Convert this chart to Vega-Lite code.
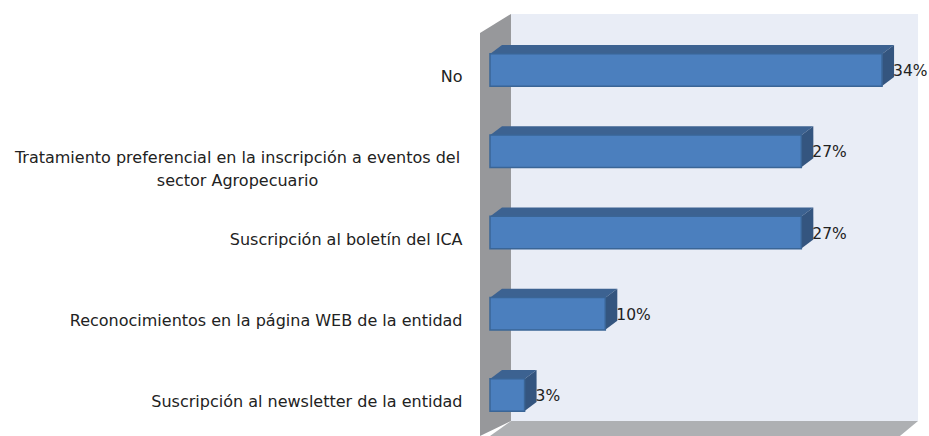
{
"$schema":"https://vega.github.io/schema/vega-lite/v6.json",
"width":449,"height":436,
"autosize":"none",
"padding":{"left":480,"top":0,"right":0,"bottom":0},
"background":"white",
"view":{"stroke":null},
"config":{"font":"DejaVu Sans"},
"datasets":{
"answers":[
{"label":"No","value":0.34,"rank":0},
{"label":"Tratamiento preferencial en la inscripción a eventos  del|sector Agropecuario","value":0.27,"rank":1},
{"label":"Suscripción al boletín del ICA","value":0.27,"rank":2},
{"label":"Reconocimientos en la página WEB de la entidad","value":0.10,"rank":3},
{"label":"Suscripción al newsletter de la entidad","value":0.03,"rank":4}
],
"backWall":[{"a":0.0182,"b":0.3712,"top":-0.689,"bottom":4.3200}],
"sideWall":[
{"a":-0.00867,"top":-0.4554,"bottom":4.5046},
{"a":0.0182,"top":-0.689,"bottom":4.32}
],
"floor":[
{"a":0,"top":4.5046,"bottom":4.5046},
{"a":0.0182,"top":4.32,"bottom":4.5046},
{"a":0.3555,"top":4.32,"bottom":4.5046},
{"a":0.3712,"top":4.32,"bottom":4.32}
]
},
"layer":[
{"data":{"name":"backWall"},"mark":{"type":"rect","fill":"#E9EDF6"},
"encoding":{
"x":{"field":"a","type":"quantitative","scale":{"domain":[-0.00867,0.3807],"nice":false,"zero":false},"axis":null},
"x2":{"field":"b"},
"y":{"field":"top","type":"quantitative","scale":{"domain":[-0.8615,4.5046],"range":[0,436],"nice":false,"zero":false},"axis":null},
"y2":{"field":"bottom"}}},
{"data":{"name":"sideWall"},"mark":{"type":"area","orient":"vertical","fill":"#97989B"},
"encoding":{
"x":{"field":"a","type":"quantitative","axis":null},
"y":{"field":"top","type":"quantitative","scale":{"domain":[-0.8615,4.5046],"range":[0,436],"nice":false,"zero":false},"axis":null},
"y2":{"field":"bottom"}}},
{"data":{"name":"floor"},"mark":{"type":"area","orient":"vertical","fill":"#AEB0B3"},
"encoding":{
"x":{"field":"a","type":"quantitative","axis":null},
"y":{"field":"top","type":"quantitative","scale":{"domain":[-0.8615,4.5046],"range":[0,436],"nice":false,"zero":false},"axis":null},
"y2":{"field":"bottom"}}},
{"data":{"name":"answers"},
"transform":[
{"calculate":"[0,1,2,3]","as":"corner"},{"flatten":["corner"]},
{"calculate":"[0,0.0104,datum.value,datum.value+0.0104][datum.corner]","as":"fx"},
{"calculate":"datum.rank-0.197-(datum.corner==0?0:0.111)","as":"fy"},
{"calculate":"datum.rank-0.197-(datum.corner==3?0.111:0)","as":"fy2"}
],
"mark":{"type":"area","orient":"vertical","fill":"#3C6291"},
"encoding":{
"x":{"field":"fx","type":"quantitative","axis":null},
"y":{"field":"fy","type":"quantitative","scale":{"domain":[-0.8615,4.5046],"range":[0,436],"nice":false,"zero":false},"axis":null},
"y2":{"field":"fy2"},
"detail":{"field":"label"}}},
{"data":{"name":"answers"},
"transform":[
{"calculate":"[0,1]","as":"corner"},{"flatten":["corner"]},
{"calculate":"datum.value+datum.corner*0.0104","as":"fx"},
{"calculate":"datum.rank-0.197-datum.corner*0.111","as":"fy"},
{"calculate":"datum.rank+0.197-datum.corner*0.111","as":"fy2"}
],
"mark":{"type":"area","orient":"vertical","fill":"#34557F"},
"encoding":{
"x":{"field":"fx","type":"quantitative","axis":null},
"y":{"field":"fy","type":"quantitative","scale":{"domain":[-0.8615,4.5046],"range":[0,436],"nice":false,"zero":false},"axis":null},
"y2":{"field":"fy2"},
"detail":{"field":"label"}}},
{"data":{"name":"answers"},
"mark":{"type":"bar","fill":"#4B7FBE","stroke":"#3A6596","strokeWidth":1.5},
"encoding":{
"x":{"field":"value","type":"quantitative","stack":null,"axis":null},
"y":{"field":"label","type":"nominal","sort":null,"title":null,
"scale":{"range":[29.375,435.625],"paddingInner":0.6,"paddingOuter":0.3},
"axis":{"orient":"left","domain":false,"ticks":false,"title":null,"labelExpr":"split(datum.label,'|')",
"labelFontSize":16,"labelColor":"#222222","labelLimit":600,"labelOverlap":false,"labelLineHeight":23,"labelOffset":7,
"labelAlign":{"condition":{"test":"indexof(datum.value,'Tratamiento')==0","value":"center"},"value":"right"},
"labelPadding":{"condition":{"test":"indexof(datum.value,'Tratamiento')==0","value":243},"value":18}}}}},
{"data":{"name":"answers"},
"mark":{"type":"text","align":"left","baseline":"middle","dx":11,"dy":1,"fontSize":15.5,"color":"#222222"},
"encoding":{
"x":{"field":"value","type":"quantitative","axis":null},
"y":{"field":"label","type":"nominal","sort":null,"title":null,
"scale":{"range":[29.375,435.625],"paddingInner":0.6,"paddingOuter":0.3},"axis":null},
"text":{"field":"value","type":"quantitative","format":".0%"}}}
],
"resolve":{"scale":{"y":"independent"}}
}
